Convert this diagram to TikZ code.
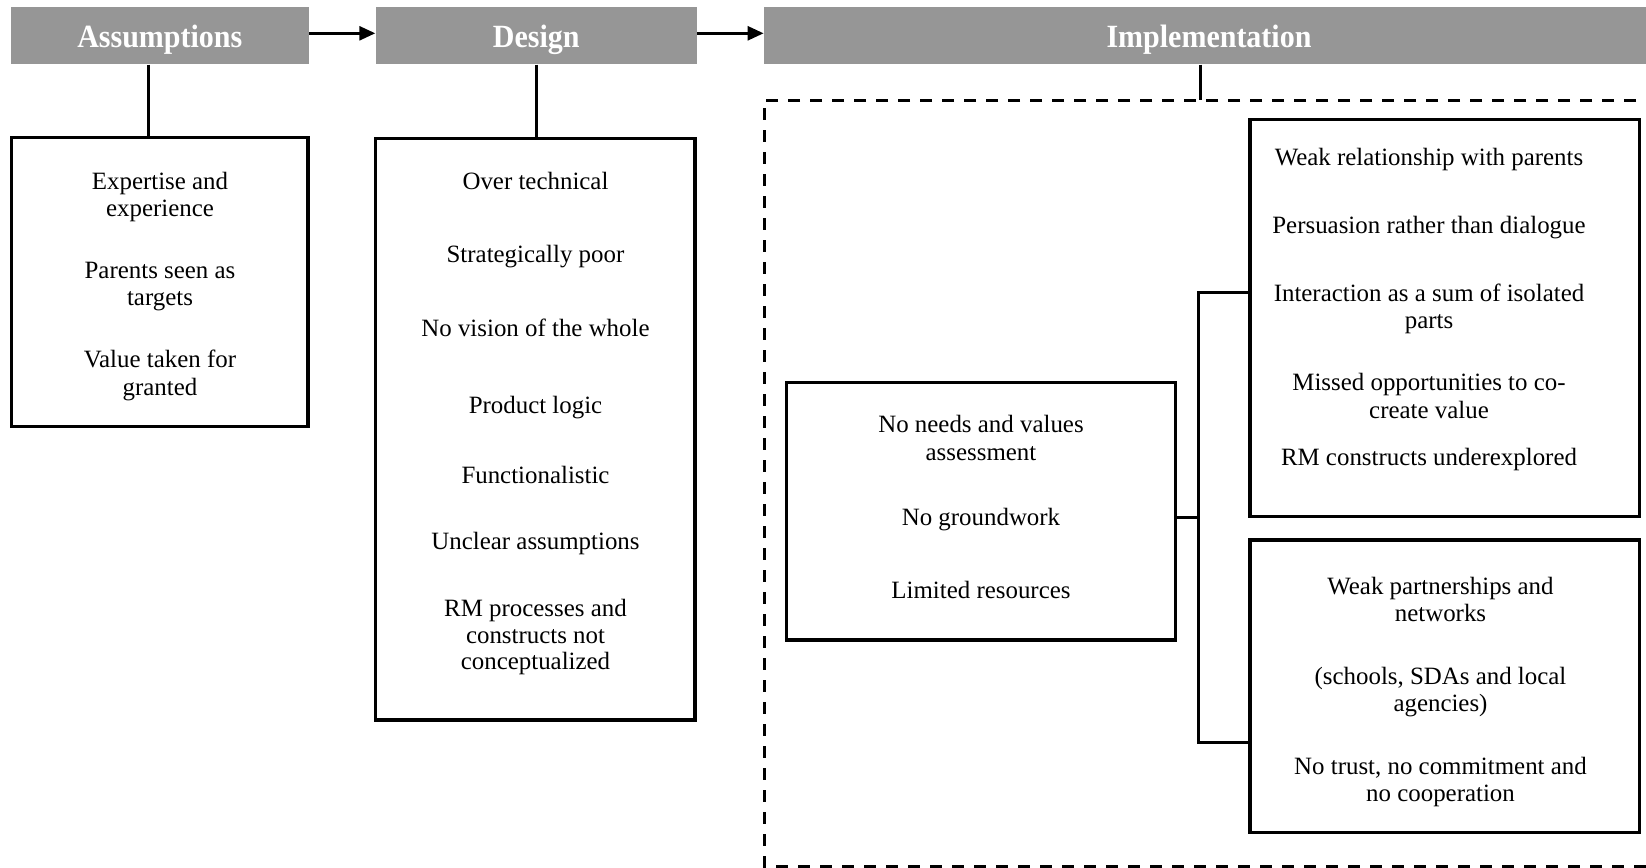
\documentclass[tikz,border=0pt]{standalone}
\usepackage{fontspec}
\usepackage{graphicx}
\setmainfont{Liberation Serif}
\usetikzlibrary{arrows.meta}
\definecolor{hdrgray}{RGB}{150,150,150}
\newcommand{\tallhdr}[1]{\scalebox{1}[1.08]{#1}}
\begin{document}
\begin{tikzpicture}[x=0.5pt,y=-0.5pt,
  hdr/.style={fill=hdrgray, draw=none, inner sep=0pt, anchor=center},
  hdrtxt/.style={text=white, font=\fontsize{15}{18}\selectfont\bfseries, inner sep=0pt, anchor=base},
  boxx/.style={draw=black, line width=1.6pt, inner sep=0pt, anchor=center},
  ln/.style={font=\fontsize{12.45}{14}\selectfont, inner sep=0pt, anchor=base},
  conn/.style={draw=black, line width=1.35pt},
  arr/.style={conn, -{Triangle[length=8pt,width=7pt]}},
  dashedframe/.style={draw=black, line width=1.5pt, dash pattern=on 6pt off 5pt}
]
\useasboundingbox (0,0) rectangle (1646,868);
\clip (0,0) rectangle (1646,868);

% headers
\node[hdr, minimum width=149.15pt, minimum height=28.5pt] (ha) at (159.85,35.8) {};
\node[hdr, minimum width=160.5pt, minimum height=28.5pt] (hd) at (536.2,35.8) {};
\node[hdr, minimum width=445pt, minimum height=28.5pt] (hi) at (1209,35.8) {};
\node[hdrtxt] (hat) at (159.8,47.7) {\tallhdr{Assumptions}};
\node[hdrtxt] (hdt) at (536.2,47.7) {\tallhdr{Design}};
\node[hdrtxt] (hit) at (1209,47.7) {\tallhdr{Implementation}};

% arrows between headers
\coordinate (arry) at (0,33.3);
\draw[arr] (ha.east |- arry) -- (hd.west |- arry);
\draw[arr] (hd.east |- arry) -- (hi.west |- arry);

% boxes
\node[boxx, minimum width=148.15pt, minimum height=144.6pt] (ab) at (159.85,282.1) {};
\node[boxx, minimum width=159.65pt, minimum height=290.85pt] (db) at (535.35,429.15) {};
\node[boxx, minimum width=194.5pt, minimum height=128.85pt] (lb) at (981.2,511.15) {};
\node[boxx, minimum width=194.65pt, minimum height=198.6pt] (tr) at (1444.65,318.1) {};
\node[boxx, minimum width=194.65pt, minimum height=146.15pt] (br) at (1444.65,686.15) {};

% dashed frame
\coordinate (dtl) at (764,100);
\coordinate (dbl) at (764,866);
\coordinate (dtr) at (1680,100);
\coordinate (dbr) at (1680,866);
\draw[dashedframe] (dtr) -- (dtl) -- (dbl) -- (dbr);

% header-to-box connectors
\coordinate (la) at (148.3,0);
\coordinate (ld) at (536.7,0);
\coordinate (li) at (1200.7,100);
\draw[conn] (ha.south -| la) -- (ab.north -| la);
\draw[conn] (hd.south -| ld) -- (db.north -| ld);
\draw[conn] (hi.south -| li) -- (li);

% implementation tree
\coordinate (sp1) at (1198.3,292.3);
\coordinate (sp2) at (1198.3,742.3);
\coordinate (spm) at (1198.3,517.5);
\draw[conn] (tr.west |- sp1) -- (sp1) -- (sp2) -- (br.west |- sp2);
\draw[conn] (lb.east |- spm) -- (spm);

% Assumptions text
\node[ln] (a1) at (160,189.5) {Expertise and};
\node[ln] (a2) at (160,216.2) {experience};
\node[ln] (a3) at (160,278.2) {Parents seen as};
\node[ln] (a4) at (160,305.5) {targets};
\node[ln] (a5) at (160,367.6) {Value taken for};
\node[ln] (a6) at (160,395.8) {granted};

% Design text
\node[ln] (d1) at (535.5,189) {Over technical};
\node[ln] (d2) at (535.5,262) {Strategically poor};
\node[ln] (d3) at (535.5,336) {No vision of the whole};
\node[ln] (d4) at (535.5,413.5) {Product logic};
\node[ln] (d5) at (535.5,483) {Functionalistic};
\node[ln] (d6) at (535.5,549.5) {Unclear assumptions};
\node[ln] (d7) at (535.5,616) {RM processes and};
\node[ln] (d8) at (535.5,643) {constructs not};
\node[ln] (d9) at (535.5,669) {conceptualized};

% Left implementation box text
\node[ln] (l1) at (981,432) {No needs and values};
\node[ln] (l2) at (981,460.5) {assessment};
\node[ln] (l3) at (981,525) {No groundwork};
\node[ln] (l4) at (981,598) {Limited resources};

% Top right text
\node[ln] (r1) at (1429,165) {Weak relationship with parents};
\node[ln] (r2) at (1429,233.5) {Persuasion rather than dialogue};
\node[ln] (r3) at (1429,301.7) {Interaction as a sum of isolated};
\node[ln] (r4) at (1429,328.5) {parts};
\node[ln] (r5) at (1429,390) {Missed opportunities to co-};
\node[ln] (r6) at (1429,418.3) {create value};
\node[ln] (r7) at (1429,465) {RM constructs underexplored};

% Bottom right text
\node[ln] (b1) at (1440.5,594.3) {Weak partnerships and};
\node[ln] (b2) at (1440.5,621.7) {networks};
\node[ln] (b3) at (1440.5,684.3) {(schools, SDAs and local};
\node[ln] (b4) at (1440.5,711) {agencies)};
\node[ln] (b5) at (1440.5,774.3) {No trust, no commitment and};
\node[ln] (b6) at (1440.5,801.7) {no cooperation};
\end{tikzpicture}
\end{document}
